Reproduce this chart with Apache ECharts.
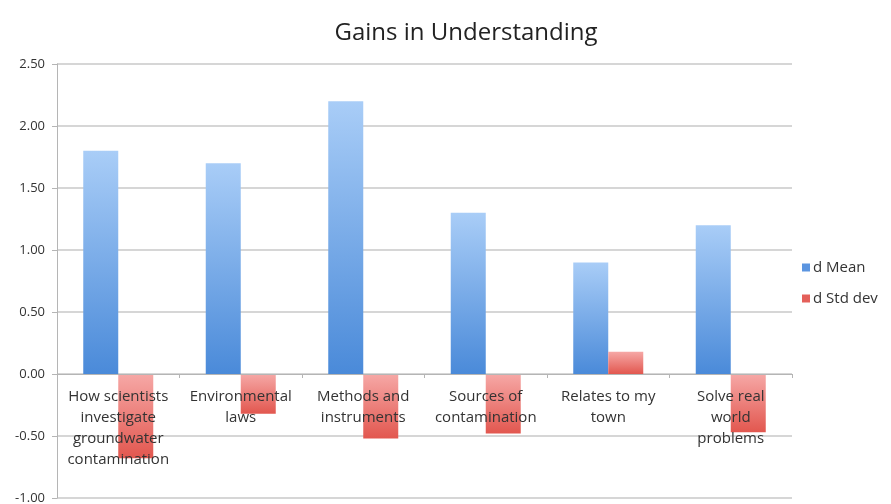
<!DOCTYPE html>
<html>
<head>
<meta charset="utf-8">
<script src="https://cdn.jsdelivr.net/npm/echarts@6/dist/echarts.min.js"></script>
<style>
  html, body { margin: 0; padding: 0; background: #fff; }
  #chart { width: 891px; height: 504px; }
</style>
</head>
<body>
<div id="chart"></div>
<script>
const categories = [
  "How scientists\ninvestigate\ngroundwater\ncontamination",
  "Environmental\nlaws",
  "Methods and\ninstruments",
  "Sources of\ncontamination",
  "Relates to my\ntown",
  "Solve real\nworld\nproblems"
];
const meanValues = [1.80, 1.70, 2.20, 1.30, 0.90, 1.20];
const stdValues = [-0.68, -0.32, -0.52, -0.48, 0.18, -0.47];

const chart = echarts.init(document.getElementById("chart"));

const blueFill = new echarts.graphic.LinearGradient(0, 0, 0, 1, [
  { offset: 0, color: "#a9cdf7" },
  { offset: 1, color: "#4a8ad9" }
]);
const redFill = new echarts.graphic.LinearGradient(0, 0, 0, 1, [
  { offset: 0, color: "#f6a8a6" },
  { offset: 1, color: "#e2574f" }
]);

// zero line sits 124px above the grid bottom (range -1..2.5 over 434px)
const option = {
  animation: false,
  textStyle: { fontFamily: "Open Sans, sans-serif" },
  title: {
    text: "Gains in Understanding",
    left: 461,
    top: 16,
    textAlign: "center",
    textStyle: { fontSize: 24, fontWeight: "normal", color: "#222" }
  },
  legend: {
    orient: "vertical",
    left: 797,
    top: 255,
    icon: "rect",
    itemWidth: 8,
    itemHeight: 8,
    itemGap: 16,
    textStyle: { fontSize: 15, color: "#333", padding: [0, 0, 0, -2] },
    data: [
      { name: "d Mean", itemStyle: { color: "#5b95e0" } },
      { name: "d Std dev", itemStyle: { color: "#e4605a" } }
    ]
  },
  grid: { left: 57, right: 99, top: 64, bottom: 6, outerBoundsMode: "none", containLabel: false },
  xAxis: {
    type: "category",
    data: categories,
    offset: -124,
    z: 5,
    axisLine: { onZero: false, lineStyle: { color: "#b5b5b5" } },
    axisTick: { show: true, length: 4, lineStyle: { color: "#b5b5b5" } },
    axisLabel: { fontSize: 15, color: "#333", lineHeight: 21, margin: 12, interval: 0 }
  },
  yAxis: {
    type: "value",
    min: -1,
    max: 2.5,
    interval: 0.5,
    axisLine: { show: true, lineStyle: { color: "#b5b5b5" } },
    axisTick: { show: true, length: 5, lineStyle: { color: "#b5b5b5" } },
    axisLabel: {
      fontSize: 13,
      color: "#333",
      margin: 12,
      formatter: v => v.toFixed(2)
    },
    splitLine: { lineStyle: { color: "#c8c8c8", width: 1.5 } }
  },
  series: [
    {
      name: "d Mean",
      type: "bar",
      data: meanValues,
      barWidth: 35,
      barGap: "0%",
      itemStyle: { color: blueFill }
    },
    {
      name: "d Std dev",
      type: "bar",
      data: stdValues,
      barWidth: 35,
      barGap: "0%",
      itemStyle: { color: redFill }
    }
  ]
};

chart.setOption(option);
</script>
</body>
</html>
